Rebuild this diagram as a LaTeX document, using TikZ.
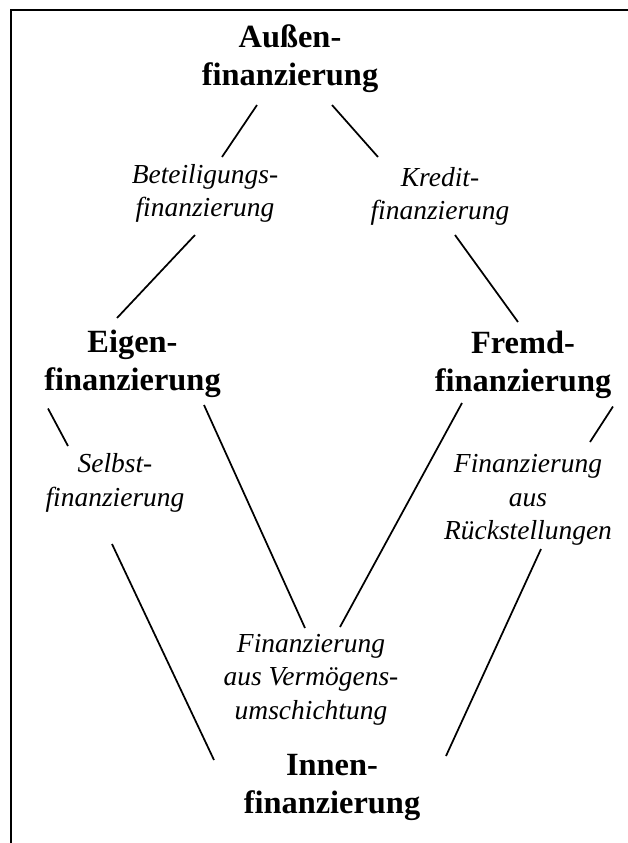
\documentclass[tikz,border=0pt]{standalone}
\usepackage{fontspec}
\setmainfont{Liberation Serif}
\tikzset{
  px/.style={x=0.75pt,y=-0.75pt},
  mainbox/.style={align=center,inner sep=0pt,font=\fontsize{24.3pt}{28.5pt}\selectfont\bfseries},
  subbox/.style={align=center,inner sep=0pt,font=\fontsize{20.6pt}{25pt}\selectfont\itshape},
  link/.style={line width=1.3pt},
  frameline/.style={line width=1.6pt}
}
\begin{document}
\begin{tikzpicture}[px]
\useasboundingbox (0,0) rectangle (628,843);
\coordinate (frametop) at (628,10);
\coordinate (framecorner) at (11,10);
\coordinate (framebottom) at (11,843);
\draw[frameline] (frametop) -- (framecorner) -- (framebottom);

\node[mainbox] (aussen) at (290,58.5) {Außen-\\finanzierung};
\node[subbox] (beteil) at (205,193.5) {Beteiligungs-\\finanzierung};
\node[subbox] (kredit) at (440,196.5) {Kredit-\\finanzierung};
\node[mainbox] (eigen) at (132.5,363.5) {Eigen-\\finanzierung};
\node[mainbox] (fremd) at (523,364.5) {Fremd-\\finanzierung};
\node[subbox] (selbst) at (115,483) {Selbst-\\finanzierung};
\node[subbox] (rueck) at (528,500) {Finanzierung\\aus\\Rückstellungen};
\node[subbox] (verm) at (311,679.5) {Finanzierung\\aus Vermögens-\\umschichtung};
\node[mainbox] (innen) at (332,787.5) {Innen-\\finanzierung};

\draw[link] ([shift={(-33,46.5)}]aussen.center) -- ([shift={(17,-36.5)}]beteil.center);
\draw[link] ([shift={(42,46.5)}]aussen.center) -- ([shift={(-62,-39.5)}]kredit.center);
\draw[link] ([shift={(-10,41.5)}]beteil.center) -- ([shift={(-15.5,-45.5)}]eigen.center);
\draw[link] ([shift={(15,38.5)}]kredit.center) -- ([shift={(-5,-42.5)}]fremd.center);
\draw[link] ([shift={(-84.5,45)}]eigen.center) -- ([shift={(-47,-37)}]selbst.center);
\draw[link] ([shift={(71.5,41.5)}]eigen.center) -- ([shift={(-6,-51.5)}]verm.center);
\draw[link] ([shift={(-61,38.5)}]fremd.center) -- ([shift={(29,-52.5)}]verm.center);
\draw[link] ([shift={(90,42)}]fremd.center) -- ([shift={(62,-58)}]rueck.center);
\draw[link] ([shift={(-3,61)}]selbst.center) -- ([shift={(-118,-27.5)}]innen.center);
\draw[link] ([shift={(13,49)}]rueck.center) -- ([shift={(114,-31.5)}]innen.center);
\end{tikzpicture}
\end{document}
